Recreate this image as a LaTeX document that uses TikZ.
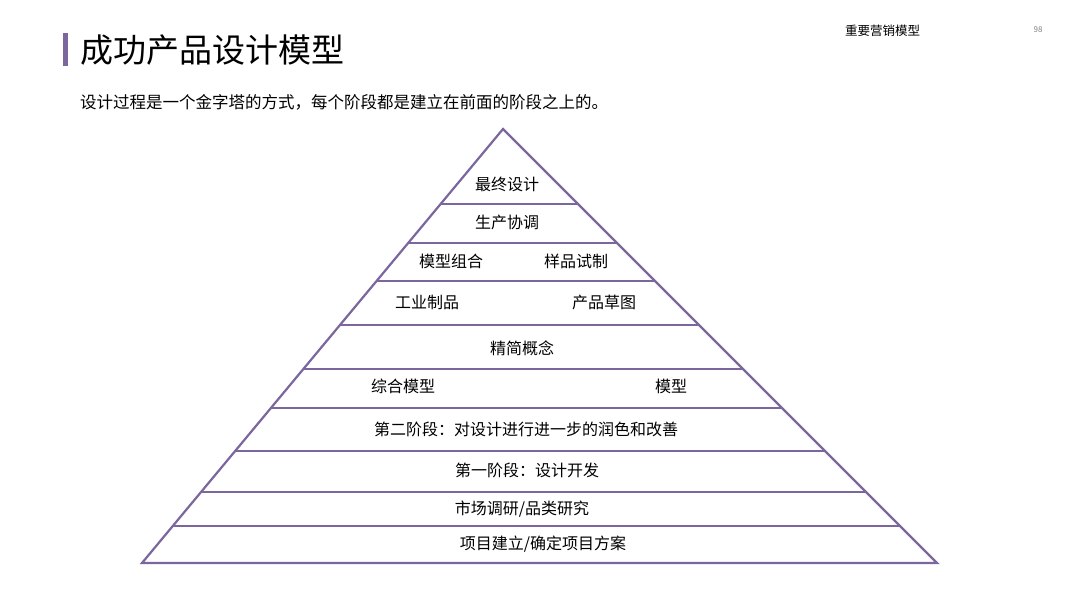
\documentclass[tikz,border=0pt]{standalone}
\usepackage{fontspec}
\setmainfont{Noto Sans CJK SC}
\usetikzlibrary{calc}
\definecolor{pur}{HTML}{7B669E}
\begin{document}
\begin{tikzpicture}[x=1pt,y=-1pt,
  lab/.style={font=\fontsize{16}{16}\selectfont,inner sep=0pt},
  ln/.style={draw=pur,line width=2.2pt}]
\useasboundingbox (0,0) rectangle (1080,608);
\fill[pur] (63,33) rectangle (68,66);
\node[anchor=west,inner sep=0pt,font=\fontsize{33}{33}\selectfont] (title) at (80,50) {成功产品设计模型};
\node[anchor=west,inner sep=0pt,font=\fontsize{16.5}{17}\selectfont] (sub) at (80,102) {设计过程是一个金字塔的方式，每个阶段都是建立在前面的阶段之上的。};
\node[anchor=west,inner sep=0pt,font=\fontsize{12.5}{13}\selectfont] (hdr) at (845,31) {重要营销模型};
\node[inner sep=0pt,font=\fontsize{8}{8}\selectfont,text=gray] (pg) at (1038,30) {98};
\coordinate (T) at (503,129);
\coordinate (L) at (142,563);
\coordinate (R) at (937,563);
\draw[ln,line join=miter] (L) -- (T) -- (R) -- cycle;
\foreach \y in {204,243,281,325,369,408,451,492,526}{
  \draw[ln] ($(L)!{(563-\y)/434}!(T)$) -- ($(R)!{(563-\y)/434}!(T)$);
}
\node[lab] (a1) at (507,184) {最终设计};
\node[lab] (a2) at (507,222) {生产协调};
\node[lab] (a3) at (451,261) {模型组合};
\node[lab] (a4) at (576,261) {样品试制};
\node[lab] (a5) at (427,302) {工业制品};
\node[lab] (a6) at (604,302) {产品草图};
\node[lab] (a7) at (522,348) {精简概念};
\node[lab] (a8) at (403,386) {综合模型};
\node[lab] (a9) at (671,386) {模型};
\node[lab] (a10) at (526,429) {第二阶段：对设计进行进一步的润色和改善};
\node[lab] (a11) at (527,470) {第一阶段：设计开发};
\node[lab] (a12) at (522,509) {市场调研/品类研究};
\node[lab] (a13) at (543,544) {项目建立/确定项目方案};
\end{tikzpicture}
\end{document}
